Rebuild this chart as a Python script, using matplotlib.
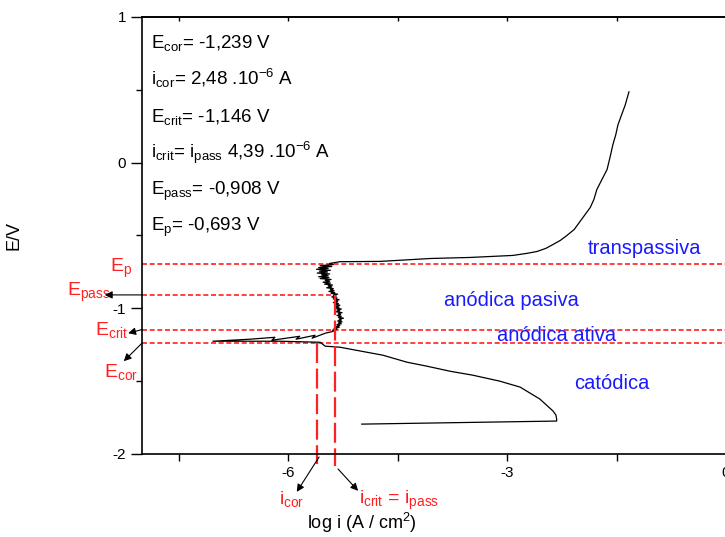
import matplotlib
matplotlib.use('Agg')
import matplotlib.pyplot as plt
import numpy as np

plt.rcParams['font.family'] = ['Liberation Sans', 'DejaVu Sans']
plt.rcParams['mathtext.fontset'] = 'custom'
plt.rcParams['mathtext.rm'] = 'Liberation Sans'
plt.rcParams['mathtext.it'] = 'Liberation Sans:italic'

# characteristic values
E_cor = -1.239
E_crit = -1.146
E_pass = -0.908
E_p = -0.693
log_icor = np.log10(2.48e-6)
log_ipass = np.log10(4.39e-6)

# cathodic branch (log i, E)
cat_x = [-4.99, -2.32, -2.32, -2.33, -2.37, -2.55, -2.82, -3.10, -3.47, -3.78, -4.10,
         -4.37, -4.70, -4.99, -5.29, -5.49, -5.56, -6.11, -7.03]
cat_y = [-1.795, -1.774, -1.760, -1.733, -1.705, -1.623, -1.541, -1.500, -1.459, -1.432, -1.397,
         -1.370, -1.322, -1.295, -1.267, -1.260, -1.233, -1.226, -1.226]

# anodic side of the wedge near E_cor
wedge_x = [-6.52, -6.18, -6.22, -5.84, -5.89, -5.63, -5.67, -5.49, -5.38]
wedge_y = [-1.212, -1.199, -1.219, -1.192, -1.212, -1.185, -1.205, -1.171, -1.158]

# passive region (noisy)
pass_x = [-5.39, -5.33, -5.37, -5.30, -5.34, -5.29, -5.33, -5.27, -5.31, -5.26,
          -5.32, -5.27, -5.30, -5.24, -5.31, -5.27, -5.33, -5.28, -5.31, -5.26,
          -5.34, -5.29, -5.33, -5.27, -5.35, -5.30, -5.36, -5.29, -5.34, -5.31,
          -5.38, -5.32, -5.36, -5.30, -5.38, -5.33, -5.40, -5.34, -5.38, -5.32,
          -5.41, -5.36, -5.44, -5.37, -5.42, -5.38, -5.47, -5.40, -5.45, -5.39,
          -5.50, -5.42, -5.52, -5.43, -5.49, -5.41, -5.56, -5.44, -5.58, -5.45,
          -5.54, -5.43, -5.60, -5.46, -5.57, -5.42, -5.61, -5.45, -5.58, -5.40,
          -5.56, -5.38]
pass_y = [-1.150, -1.144, -1.138, -1.131, -1.125, -1.119, -1.112, -1.106, -1.100, -1.093,
          -1.087, -1.081, -1.074, -1.068, -1.062, -1.055, -1.049, -1.043, -1.036, -1.030,
          -1.024, -1.017, -1.011, -1.005, -0.998, -0.992, -0.986, -0.979, -0.973, -0.967,
          -0.960, -0.954, -0.948, -0.941, -0.935, -0.929, -0.922, -0.916, -0.910, -0.903,
          -0.897, -0.891, -0.884, -0.878, -0.872, -0.865, -0.859, -0.853, -0.846, -0.840,
          -0.834, -0.827, -0.821, -0.815, -0.808, -0.802, -0.796, -0.789, -0.783, -0.777,
          -0.770, -0.764, -0.758, -0.751, -0.745, -0.739, -0.732, -0.726, -0.720, -0.713,
          -0.707, -0.700]

# transpassive branch
trans_x = [-5.43, -5.29, -4.74, -4.05, -3.51, -2.92, -2.73, -2.59, -2.47, -2.37,
           -2.27, -2.18, -2.08, -2.00, -1.93, -1.86, -1.81, -1.77, -1.70, -1.63,
           -1.59, -1.55, -1.51, -1.48, -1.43, -1.38, -1.33]
trans_y = [-0.692, -0.680, -0.678, -0.658, -0.651, -0.637, -0.623, -0.610, -0.589, -0.562,
           -0.534, -0.500, -0.459, -0.404, -0.356, -0.308, -0.253, -0.185, -0.116, -0.048,
           0.034, 0.123, 0.192, 0.260, 0.329, 0.397, 0.486]

curve_x = cat_x + wedge_x + pass_x + trans_x
curve_y = cat_y + wedge_y + pass_y + trans_y

info_lines = [
    r'$\mathrm{E_{cor}}$= -1,239 V',
    r'$\mathrm{i_{cor}}$= 2,48 .10$^{-6}$ A',
    r'$\mathrm{E_{crit}}$= -1,146 V',
    r'$\mathrm{i_{crit}}$= $\mathrm{i_{pass}}$ 4,39 .10$^{-6}$ A',
    r'$\mathrm{E_{pass}}$= -0,908 V',
    r'$\mathrm{E_p}$= -0,693 V',
]
info_y = [0.788, 0.534, 0.281, 0.034, -0.219, -0.466]

regions = ['transpassiva', 'anódica pasiva', 'anódica ativa', 'catódica']
region_x = [-1.89, -3.86, -3.14, -2.08]
region_y = [-0.625, -0.986, -1.226, -1.555]

fig = plt.figure(figsize=(7.25, 5.37), dpi=100)
ax = fig.add_axes([0.1959, 0.1546, 0.8055, 0.8138])

red = '#ff2020'
ax.axhline(E_p, color=red, lw=1.2, ls=(0, (3, 1.6)))
ax.axhline(E_crit, color=red, lw=1.2, ls=(0, (3, 1.6)))
ax.axhline(E_cor, color=red, lw=1.2, ls=(0, (3, 1.6)))
ax.plot([-8, log_ipass], [E_pass, E_pass], color=red, lw=1.2, ls=(0, (3, 1.6)))

ax.plot(curve_x, curve_y, color='k', lw=0.9)

ax.plot([log_icor, log_icor], [E_cor, -2.07], color=red, lw=1.6,
        ls=(0, (9, 2.5)), clip_on=False)
ax.plot([log_ipass, log_ipass], [E_pass, -2.08], color=red, lw=1.6,
        ls=(0, (9, 2.5)), clip_on=False)

for t, y in zip(info_lines, info_y):
    ax.text(-7.877, y, t, fontsize=13.5, ha='left', va='baseline')

for t, x, y in zip(regions, region_x, region_y):
    ax.text(x, y, t, fontsize=14.5, color='#1a1aff', ha='left', va='baseline')

# red labels on the left
ax.text(-8.44, -0.753, r'$\mathrm{E_p}$', fontsize=14, color=red, va='baseline', clip_on=False)
ax.text(-9.03, -0.918, r'$\mathrm{E_{pass}}$', fontsize=14, color=red, va='baseline', clip_on=False)
ax.text(-8.64, -1.185, r'$\mathrm{E_{crit}}$', fontsize=14, color=red, va='baseline', clip_on=False)
ax.text(-8.52, -1.473, r'$\mathrm{E_{cor}}$', fontsize=14, color=red, va='baseline', clip_on=False)
# red labels at the bottom
ax.text(-6.12, -2.342, r'$\mathrm{i_{cor}}$', fontsize=14, color=red, va='baseline', clip_on=False)
ax.text(-5.03, -2.342, r'$\mathrm{i_{crit}}$ = $\mathrm{i_{pass}}$', fontsize=14, color=red,
        va='baseline', clip_on=False)

arrow = dict(arrowstyle='-|>', color='k', lw=0.8, mutation_scale=11, shrinkA=0, shrinkB=0)
ax.annotate('', xy=(-8.51, E_pass), xytext=(-8.0, E_pass), arrowprops=arrow, annotation_clip=False)
ax.annotate('', xy=(-8.19, -1.171), xytext=(-8.0, E_crit), arrowprops=arrow, annotation_clip=False)
ax.annotate('', xy=(-8.25, -1.363), xytext=(-8.0, E_cor), arrowprops=arrow, annotation_clip=False)
ax.annotate('', xy=(-5.88, -2.26), xytext=(-5.575, -2.021), arrowprops=arrow, annotation_clip=False)
ax.annotate('', xy=(-5.04, -2.253), xytext=(-5.315, -2.103), arrowprops=arrow, annotation_clip=False)

ax.set_xlim(-8, 0)
ax.set_ylim(-2, 1)
ax.set_xticks([-6, -3, 0])
ax.set_xticks([-7.5, -4.5, -1.5], minor=True)
ax.set_yticks([-2, -1, 0, 1])
ax.set_yticks([-1.5, -0.5, 0.5], minor=True)
ax.tick_params(axis='x', which='both', direction='out', length=5, width=1, labelsize=11)
ax.tick_params(axis='y', which='major', direction='out', length=8, width=1, labelsize=11)
ax.tick_params(axis='y', which='minor', direction='out', length=4, width=1)
ax.set_xticklabels(['-6', '-3', '0'])
ax.set_yticklabels(['-2', '-1', '0', '1'])
for s in ax.spines.values():
    s.set_linewidth(1.2)

# small inward ticks on the top edge
top = ax.secondary_xaxis('top')
top.set_xticks([-7.5, -6, -4.5, -3, -1.5, 0])
top.tick_params(direction='in', length=3, width=1, labeltop=False)
top.spines['top'].set_linewidth(1.2)

ax.set_xlabel('log i (A / cm$^2$)', fontsize=13)
ax.xaxis.set_label_coords(0.377, -0.13)
ax.set_ylabel('E/V', fontsize=13)
ax.yaxis.set_label_coords(-0.205, 0.5)

fig.savefig('out.png', dpi=100)
